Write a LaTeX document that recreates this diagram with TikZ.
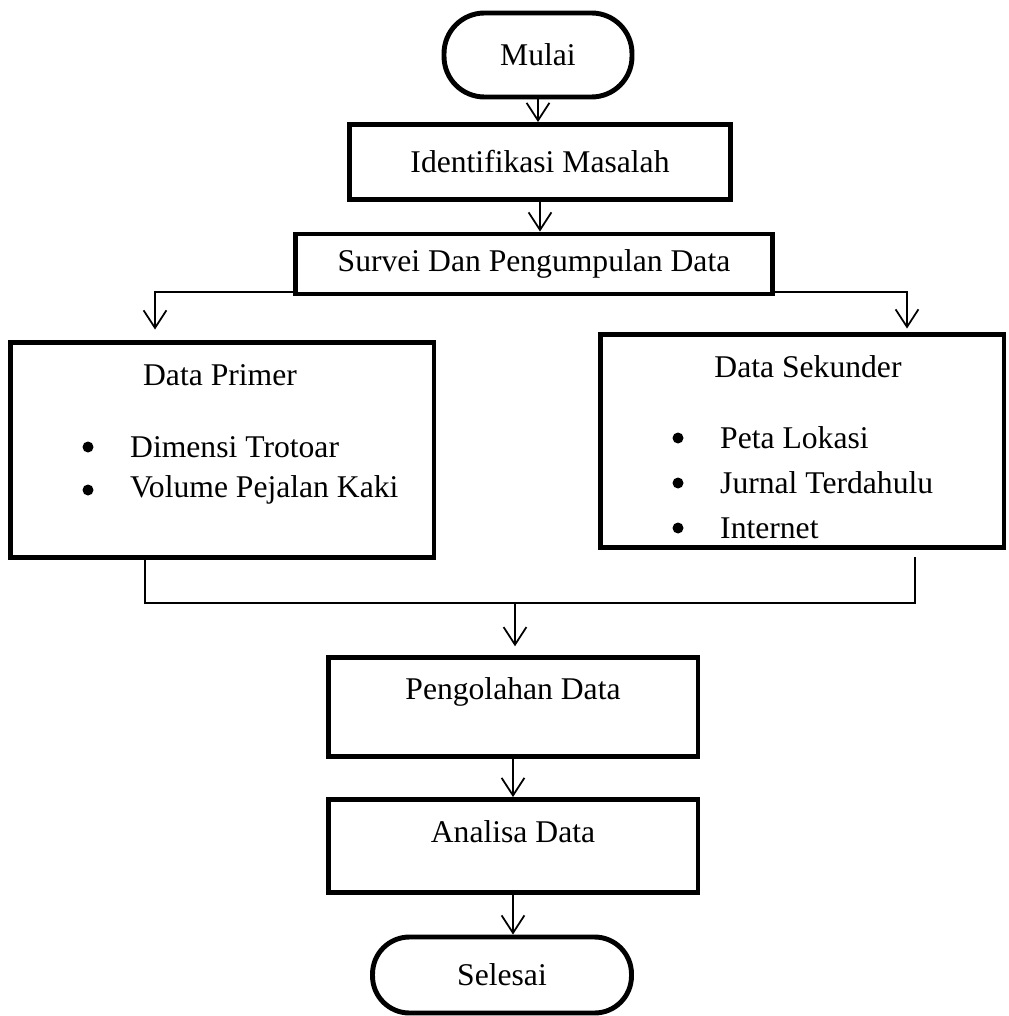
\documentclass[tikz,border=0pt]{standalone}
\usepackage{fontspec}
\setmainfont{Liberation Serif}
\usetikzlibrary{arrows.meta}

\tikzset{
    box/.style={draw, line width=2.8pt, inner sep=0pt},
    term/.style={box, rounded corners=23pt},
    dot/.style={circle, fill, inner sep=0pt, minimum size=0.22cm},
    flow/.style={line width=1pt, -{Straight Barb[length=10pt,width=13pt]}},
    link/.style={line width=0.9pt},
}

\begin{document}
\begin{tikzpicture}[x=0.02cm, y=-0.02cm, font=\fontsize{18}{22}\selectfont]
    \useasboundingbox (0,0) rectangle (1008,1016);
    % main column
    \node[term, minimum width=3.76cm, minimum height=1.68cm] (mulai) at (538,55) {Mulai};
    \node[box, minimum width=7.62cm, minimum height=1.5cm] (ident) at (540,162) {Identifikasi Masalah};
    \node[box, minimum width=9.54cm, minimum height=1.2cm] (survei) at (534,264) {Survei Dan Pengumpulan Data};
    \node[box, minimum width=8.48cm, minimum height=4.3cm] (primer) at (222,450) {};
    \node[box, minimum width=8.08cm, minimum height=4.26cm] (sekunder) at (802,441) {};
    \node[box, minimum width=7.4cm, minimum height=1.98cm] (olah) at (513,707) {};
    \node[box, minimum width=7.4cm, minimum height=1.86cm] (analisa) at (513,846) {};
    \node[term, rounded corners=21pt, minimum width=5.18cm, minimum height=1.52cm] (selesai) at (502,975) {Selesai};
    % box texts
    \node (primerhead) at (220,375) {Data Primer};
    \foreach \entry [count=\i] in {Dimensi Trotoar, Volume Pejalan Kaki} {
        \node[dot] (pdot\i) at (88, {404+43*\i}) {};
        \node[anchor=west] (pitem\i) at (124, {404+43*\i}) {\entry};
    }
    \node (sekunderhead) at (808,367) {Data Sekunder};
    \foreach \entry [count=\i] in {Peta Lokasi, Jurnal Terdahulu, Internet} {
        \node[dot] (sdot\i) at (678, {393+45*\i}) {};
        \node[anchor=west] (sitem\i) at (714, {393+45*\i}) {\entry};
    }
    \node (olahtext) at (513,692) {Pengolahan Data};
    \node (analisatext) at (513,832) {Analisa Data};
    % connectors
    \coordinate (lsplit) at (155,292);
    \coordinate (rsplit) at (907,292);
    \coordinate (lmerge) at (145,603);
    \coordinate (rmerge) at (915,603);
    \coordinate (join) at (515,603);
    \draw[flow] (mulai.south) -- (mulai.south |- ident.north);
    \draw[flow] (ident.south) -- (ident.south |- survei.north);
    \draw[flow, shorten >=6pt] (survei.west |- lsplit) -| (primer.north -| lsplit);
    \draw[flow, shorten >=2pt] (survei.east |- rsplit) -| (sekunder.north -| rsplit);
    \draw[link, shorten >=4pt] (primer.south -| lmerge) |- (rmerge) -- (sekunder.south -| rmerge);
    \draw[flow, shorten >=5pt] (join) -- (join |- olah.north);
    \draw[flow] (olah.south) -- (olah.south |- analisa.north);
    \draw[flow] (analisa.south) -- (analisa.south |- selesai.north);
\end{tikzpicture}
\end{document}
